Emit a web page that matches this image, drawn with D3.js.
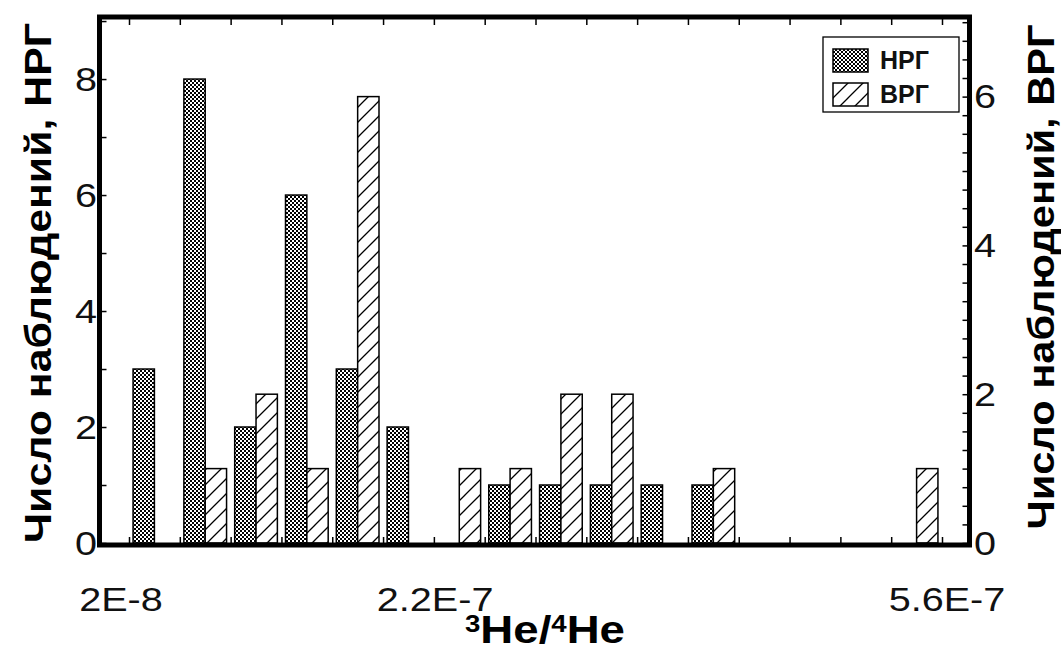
<!DOCTYPE html>
<html>
<head>
<meta charset="utf-8">
<script src="https://cdn.jsdelivr.net/npm/d3@7/dist/d3.min.js"></script>
<style>
  html, body { margin: 0; padding: 0; background: #fff; }
  svg { display: block; font-family: "Liberation Sans", Arial, sans-serif; }
</style>
</head>
<body>
<svg id="chart" width="1061" height="652"></svg>
<script>
// Histogram of 3He/4He ratios: counts for two groups, each on its own y axis.
const binStart = 2e-8;
const binWidth = 3.375e-8;
const binCount = 16;
const countsNRG = [3, 8, 2, 6, 3, 2, 0, 1, 1, 1, 1, 1, 0, 0, 0, 0];
const countsVRG = [0, 1, 2, 1, 6, 0, 1, 1, 2, 2, 0, 1, 0, 0, 0, 1];
const xLabelValues = [2e-8, 2.2e-7, 5.6e-7];
const xLabelTexts = ["2E-8", "2.2E-7", "5.6E-7"];
const leftTicks = [0, 2, 4, 6, 8];
const rightTicks = [0, 2, 4, 6];
const seriesNames = ["НРГ", "ВРГ"];
const leftTitle = "Число наблюдений, НРГ";
const rightTitle = "Число наблюдений, ВРГ";

const svg = d3.select("#chart");
const frame = { left: 99.5, right: 969.5, top: 17, bottom: 545 };
const plotTop = 17, plotBottom = 543;
const stretch = 1.2; // labels are set in a wide face

const x = d3.scaleLinear().domain([binStart, binStart + binCount * binWidth]).range([129, 942]);
const yL = d3.scaleLinear().domain([0, 9.07]).range([plotBottom, plotTop]);
const yR = d3.scaleLinear().domain([0, 7.07]).range([plotBottom, plotTop]);

// fill patterns
const defs = svg.append("defs");
const chk = defs.append("pattern").attr("id", "checker")
  .attr("patternUnits", "userSpaceOnUse").attr("width", 4).attr("height", 4);
chk.append("rect").attr("width", 4).attr("height", 4).attr("fill", "#000");
chk.append("rect").attr("x", 0).attr("y", 0).attr("width", 2).attr("height", 2).attr("fill", "#fff");
chk.append("rect").attr("x", 2).attr("y", 2).attr("width", 2).attr("height", 2).attr("fill", "#fff");

const hatch = defs.append("pattern").attr("id", "hatch")
  .attr("patternUnits", "userSpaceOnUse").attr("width", 15).attr("height", 15);
hatch.append("rect").attr("width", 15).attr("height", 15).attr("fill", "#fff");
hatch.append("path")
  .attr("d", "M0,15 L15,0 M-3.75,3.75 L3.75,-3.75 M11.25,18.75 L18.75,11.25")
  .attr("stroke", "#000").attr("stroke-width", 1.3);

// bars
const bins = d3.range(binCount).map(i => ({
  i,
  x0: binStart + i * binWidth,
  x1: binStart + (i + 1) * binWidth,
  nrg: countsNRG[i],
  vrg: countsVRG[i]
}));

function barGeom(d, k) {
  const a = x(d.x0), b = x(d.x1);
  const pad = (b - a) * 0.08;
  const w = (b - a - 2 * pad) / 2;
  return { x: a + pad + k * w, w };
}

svg.append("g").selectAll("rect")
  .data(bins.filter(d => d.nrg > 0))
  .join("rect")
  .attr("x", d => barGeom(d, 0).x)
  .attr("width", d => barGeom(d, 0).w)
  .attr("y", d => yL(d.nrg))
  .attr("height", d => yL(0) - yL(d.nrg))
  .attr("fill", "url(#checker)")
  .attr("stroke", "#000").attr("stroke-width", 1.5);

svg.append("g").selectAll("rect")
  .data(bins.filter(d => d.vrg > 0))
  .join("rect")
  .attr("x", d => barGeom(d, 1).x)
  .attr("width", d => barGeom(d, 1).w)
  .attr("y", d => yR(d.vrg))
  .attr("height", d => yR(0) - yR(d.vrg))
  .attr("fill", "url(#hatch)")
  .attr("stroke", "#000").attr("stroke-width", 1.5);

// tick marks (pointing inward)
const binEdges = d3.range(binCount + 1).map(i => binStart + i * binWidth);
const bottomAxis = d3.axisTop(x).tickValues(binEdges).tickSize(6).tickFormat("");
svg.append("g").attr("transform", `translate(0,${plotBottom})`).call(bottomAxis)
  .call(g => g.select(".domain").remove())
  .selectAll("line").attr("stroke", "#000").attr("stroke-width", 1.5);
const topAxis = d3.axisBottom(x).tickValues(binEdges).tickSize(6).tickFormat("");
svg.append("g").attr("transform", `translate(0,${plotTop + 2})`).call(topAxis)
  .call(g => g.select(".domain").remove())
  .selectAll("line").attr("stroke", "#000").attr("stroke-width", 1.5);

const leftAxis = d3.axisRight(yL).tickValues(d3.range(0, 10)).tickSize(5).tickFormat("");
svg.append("g").attr("transform", `translate(${frame.left + 2},0)`).call(leftAxis)
  .call(g => g.select(".domain").remove())
  .selectAll("line").attr("stroke", "#000").attr("stroke-width", 1.5);

const rightAxis = d3.axisLeft(yR).tickValues(d3.range(0, 7.01, 0.25)).tickSize(5).tickFormat("");
svg.append("g").attr("transform", `translate(${frame.right - 2},0)`).call(rightAxis)
  .call(g => g.select(".domain").remove())
  .selectAll("line").attr("stroke", "#000").attr("stroke-width", 1.5);

// frame
svg.append("rect")
  .attr("x", frame.left).attr("y", frame.top)
  .attr("width", frame.right - frame.left).attr("height", frame.bottom - frame.top)
  .attr("fill", "none").attr("stroke", "#000").attr("stroke-width", 5);

// tick labels
svg.append("g").selectAll("text").data(leftTicks).join("text")
  .attr("transform", d => `translate(97,${yL(d)}) scale(${stretch},1)`).attr("dy", "0.36em")
  .attr("text-anchor", "end").attr("font-size", 33).attr("fill", "#111")
  .text(d => d);

svg.append("g").selectAll("text").data(rightTicks).join("text")
  .attr("transform", d => `translate(974,${yR(d)}) scale(${stretch},1)`).attr("dy", "0.36em")
  .attr("text-anchor", "start").attr("font-size", 33).attr("fill", "#111")
  .text(d => d);

svg.append("g").selectAll("text").data(xLabelValues).join("text")
  .attr("transform", (d, i) => `translate(${x(d) + (i === 0 ? -8 : 5)},611) scale(${stretch},1)`)
  .attr("text-anchor", "middle").attr("font-size", 33).attr("fill", "#111")
  .text((d, i) => xLabelTexts[i]);

// axis titles
const xt = svg.append("text").attr("transform", `translate(545,643) scale(${stretch},1)`)
  .attr("text-anchor", "middle").attr("font-size", 38).attr("font-weight", "bold").attr("fill", "#000");
xt.append("tspan").attr("font-size", 23).attr("baseline-shift", "11").text("3");
xt.append("tspan").text("He/");
xt.append("tspan").attr("font-size", 23).attr("baseline-shift", "11").text("4");
xt.append("tspan").text("He");

svg.append("text")
  .attr("transform", "translate(51,283) rotate(-90)")
  .attr("text-anchor", "middle").attr("font-size", 37).attr("font-weight", "bold").attr("fill", "#000")
  .attr("textLength", 520).attr("lengthAdjust", "spacingAndGlyphs")
  .text(leftTitle);

svg.append("text")
  .attr("transform", "translate(1054,277) rotate(-90)")
  .attr("text-anchor", "middle").attr("font-size", 37).attr("font-weight", "bold").attr("fill", "#000")
  .attr("textLength", 505).attr("lengthAdjust", "spacingAndGlyphs")
  .text(rightTitle);

// legend
const lg = svg.append("g");
lg.append("rect").attr("x", 823).attr("y", 37).attr("width", 136).attr("height", 75)
  .attr("fill", "#fff").attr("stroke", "#000").attr("stroke-width", 1.3);
const legendItems = [{ name: seriesNames[0], fill: "url(#checker)" }, { name: seriesNames[1], fill: "url(#hatch)" }];
const li = lg.selectAll("g.item").data(legendItems).join("g").attr("class", "item")
  .attr("transform", (d, i) => `translate(833,${49 + i * 34})`);
li.append("rect").attr("width", 35).attr("height", 23).attr("fill", d => d.fill)
  .attr("stroke", "#000").attr("stroke-width", 1.5);
li.append("text").attr("x", 47).attr("y", 20).attr("font-size", 25).attr("font-weight", "bold")
  .attr("fill", "#111").text(d => d.name);
</script>
</body>
</html>
